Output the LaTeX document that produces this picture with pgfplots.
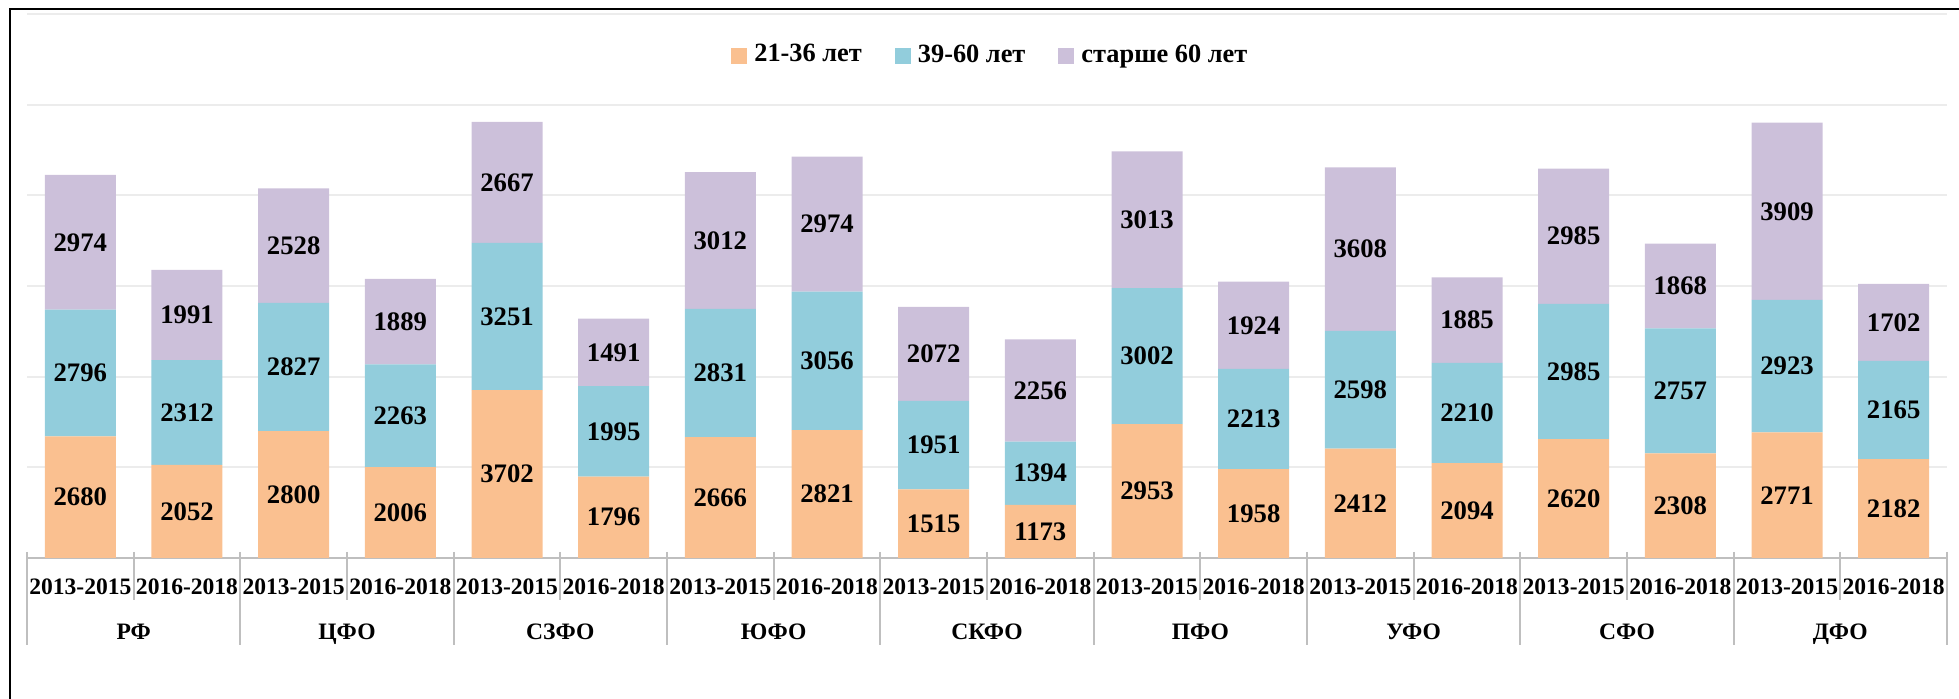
\documentclass[border=0pt]{standalone}
\usepackage{fontspec}
\setmainfont{Liberation Serif}
\usepackage{pgfplots}
\usepackage{pgfplotstable}
\pgfplotsset{compat=1.18}

\definecolor{young}{HTML}{FAC090}
\definecolor{mid}{HTML}{92CDDC}
\definecolor{old}{HTML}{CCC0DA}
\definecolor{sepc}{HTML}{BFBFBF}

% a: 21-36, b: 39-60, c: older than 60
\pgfplotstableread{
x  a    b    c
0  2680 2796 2974
1  2052 2312 1991
2  2800 2827 2528
3  2006 2263 1889
4  3702 3251 2667
5  1796 1995 1491
6  2666 2831 3012
7  2821 3056 2974
8  1515 1951 2072
9  1173 1394 2256
10 2953 3002 3013
11 1958 2213 1924
12 2412 2598 3608
13 2094 2210 1885
14 2620 2985 2985
15 2308 2757 1868
16 2771 2923 3909
17 2182 2165 1702
}\data
% label positions: middle of each segment
\pgfplotstablecreatecol[expr={\thisrow{a}/2}]{ma}\data
\pgfplotstablecreatecol[expr={\thisrow{a}+\thisrow{b}/2}]{mb}\data
\pgfplotstablecreatecol[expr={\thisrow{a}+\thisrow{b}+\thisrow{c}/2}]{mc}\data

\newcommand{\datafont}{\bfseries\fontsize{7.6}{9}\selectfont}
\newcommand{\tickfont}{\bfseries\fontsize{6.7}{8}\selectfont}

\pgfplotsset{
    frame/.style={
        at={(0.27cm,1.41cm)}, anchor=south west,
        scale only axis,
        width=19.2cm, height=5.44cm,
        xmin=-0.5, xmax=17.5,
        ymin=0, ymax=12000,
    },
}

\begin{document}
\begin{tikzpicture}
\useasboundingbox (0,0) rectangle (19.59,6.99);
\draw[line width=0.02cm] (0.10,0) -- (0.10,6.90) -- (19.59,6.90);
\begin{axis}[
    frame,
    ybar stacked,
    bar width=0.71cm,
    clip=false,
    axis x line*=bottom,
    axis y line*=left,
    x axis line style={draw=sepc, line width=0.02cm},
    y axis line style={draw=none},
    ytick={0,2000,...,12000},
    yticklabels={},
    ytick style={draw=none},
    ymajorgrids,
    grid style={draw=gray!15, line width=0.02cm},
    xtick={0,...,17},
    xticklabels={2013-2015,2016-2018,2013-2015,2016-2018,2013-2015,2016-2018,
                 2013-2015,2016-2018,2013-2015,2016-2018,2013-2015,2016-2018,
                 2013-2015,2016-2018,2013-2015,2016-2018,2013-2015,2016-2018},
    xtick style={draw=none},
    tick label style={font=\tickfont},
    xticklabel style={anchor=base, yshift=-0.37cm},
    major tick length=0pt,
    extra x ticks={0.5,2.5,...,16.5},
    extra x tick labels={РФ,ЦФО,СЗФО,ЮФО,СКФО,ПФО,УФО,СФО,ДФО},
    extra x tick style={xticklabel style={yshift=-0.45cm}, grid=none},
    legend style={at={(0.503,0.923)}, anchor=center, draw=none, fill=none,
        legend columns=-1, font=\bfseries\fontsize{7.5}{9}\selectfont,
        /tikz/every even column/.append style={column sep=0.26cm}},
    legend image code/.code={\fill[#1] (0cm,-0.08cm) rectangle (0.16cm,0.08cm);},
]
\addplot[fill=young, draw=none] table[x=x, y=a] {\data};
\addplot[fill=mid, draw=none] table[x=x, y=b] {\data};
\addplot[fill=old, draw=none] table[x=x, y=c] {\data};
\legend{21-36 лет, 39-60 лет, старше 60 лет}
\pgfplotsinvokeforeach{-0.5,1.5,...,17.5}{
    \draw[sepc, line width=0.02cm] ([yshift=0.06cm]axis cs:#1,0) -- ([yshift=-0.87cm]axis cs:#1,0);
}
\pgfplotsinvokeforeach{0.5,2.5,...,16.5}{
    \draw[sepc, line width=0.02cm] ([yshift=0.06cm]axis cs:#1,0) -- ([yshift=-0.42cm]axis cs:#1,0);
}
\end{axis}
% value labels, centred in their segments
\begin{axis}[
    frame,
    hide axis,
    nodes near coords,
    point meta=explicit symbolic,
    nodes near coords style={font=\datafont, anchor=center, text=black},
]
\addplot[only marks, mark=none] table[x=x, y=ma, meta=a] {\data};
\addplot[only marks, mark=none] table[x=x, y=mb, meta=b] {\data};
\addplot[only marks, mark=none] table[x=x, y=mc, meta=c] {\data};
\end{axis}
\end{tikzpicture}
\end{document}
